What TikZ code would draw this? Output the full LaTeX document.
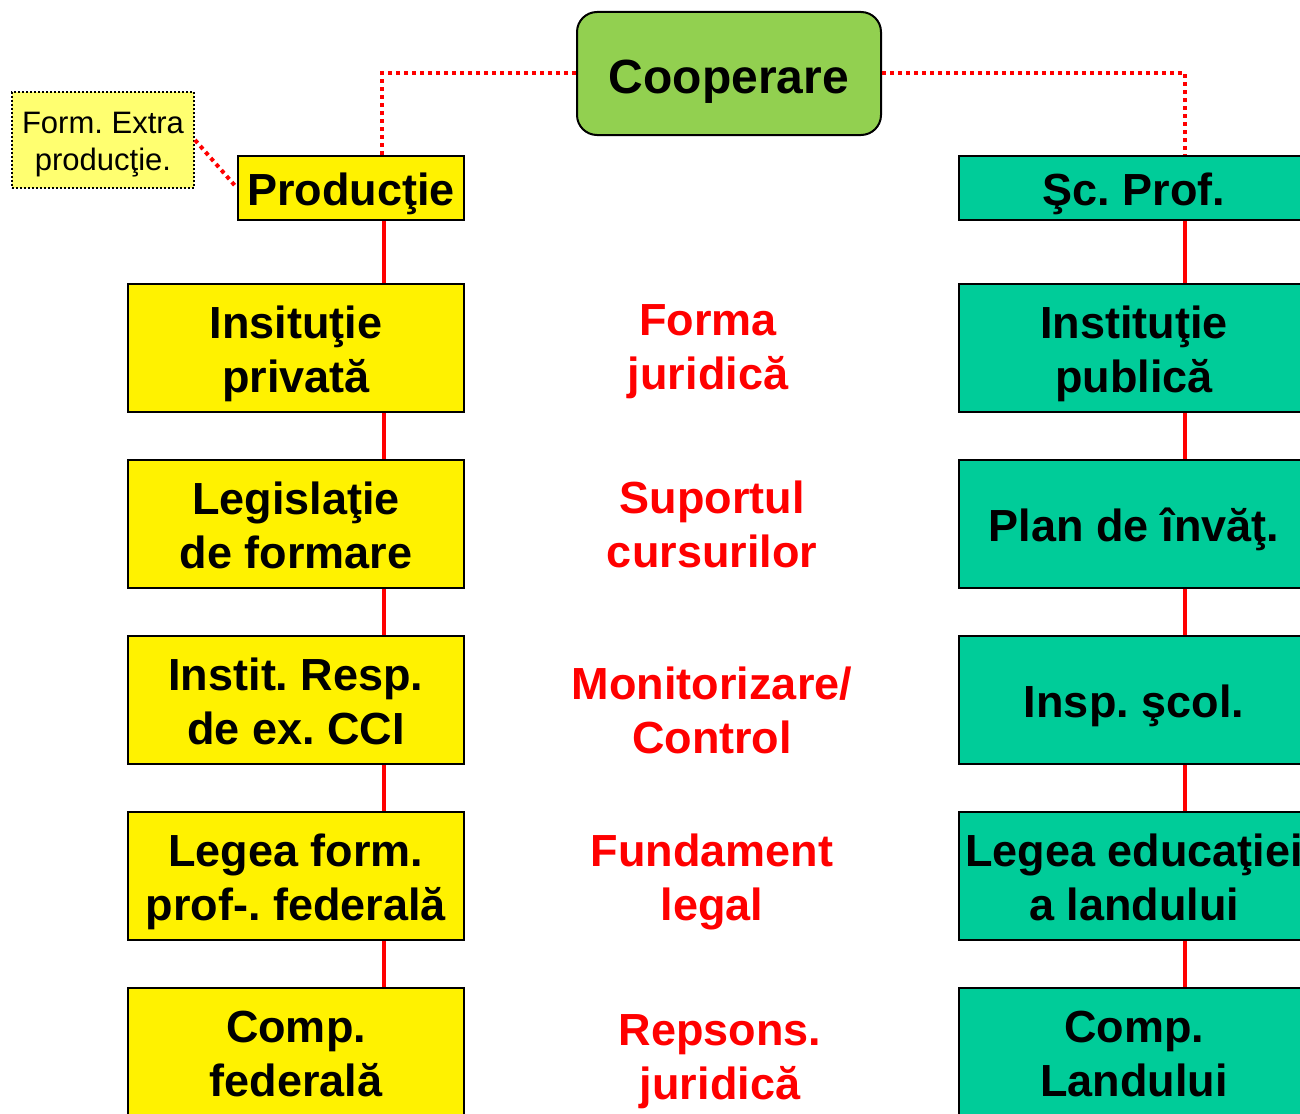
\documentclass[tikz,border=0pt]{standalone}
\usepackage{fontspec}
\setmainfont{Liberation Sans}
\newcommand\strA{\rule[-10pt]{0pt}{43pt}}
\newcommand\strT{\rule[-10pt]{0pt}{54pt}}
\newcommand\strB{\rule[-10pt]{0pt}{60pt}}
\newcommand\strC{\rule[-7pt]{0pt}{29pt}}
\newcommand\strD{\rule[-7pt]{0pt}{37pt}}
\begin{document}
\frenchspacing
\begin{tikzpicture}[x=1pt,y=-1pt,
  box/.style={draw=black, line width=2pt, inner sep=0pt, align=center,
    font=\fontsize{45}{54}\selectfont\bfseries\frenchspacing},
  lbox/.style={box, fill=yellow, minimum width=336pt, minimum height=128pt},
  rbox/.style={box, fill=tealgreen, minimum width=350pt, minimum height=128pt},
  lab/.style={text=red, inner sep=0pt, align=center, font=\fontsize{45}{54}\selectfont\bfseries\frenchspacing},
  link/.style={draw=red, line width=4pt},
  dotlink/.style={draw=red, line width=4pt, dash pattern=on 4pt off 4pt}]
\definecolor{tealgreen}{HTML}{00CC99}
\definecolor{coopgreen}{HTML}{92D050}
\definecolor{lightyel}{HTML}{FFFF70}
\useasboundingbox (0,0) rectangle (1300,1113);
\clip (0,0) rectangle (1300,1113);
\coordinate (lx) at (384,0);
\coordinate (ldx) at (382,0);
\coordinate (rx) at (1185,0);
% top
\node[box, fill=coopgreen, rounded corners=20pt, minimum width=304pt, minimum height=123pt,
  font=\fontsize{48}{56}\selectfont\bfseries] (coop) at (729,73.5) {\strB Cooperare};
\node[box, fill=yellow, minimum width=226pt, minimum height=64pt] (prod) at (351,188) {\strT Producţie};
\node[box, fill=tealgreen, minimum width=350pt, minimum height=64pt] (scp) at (1134,188) {\strT Şc. Prof.};
\node[draw=black, line width=2pt, dash pattern=on 2pt off 2pt, fill=lightyel, inner sep=0pt,
  minimum width=182pt, minimum height=96pt, align=center,
  font=\fontsize{31}{37}\selectfont\frenchspacing] (fe) at (103,140) {\strD Form. Extra\\\strC producţie.};
% left column
\node[lbox] (l1) at (296,348) {\strT Insituţie\\\strA privată};
\node[lbox] (l2) at (296,524) {\strT Legislaţie\\\strA de formare};
\node[lbox] (l3) at (296,700) {\strT Instit. Resp.\\\strA de ex. CCI};
\node[lbox] (l4) at (296,876) {\strT Legea form.\\\strA prof-. federală};
\node[lbox] (l5) at (296,1052) {\strT Comp.\\\strA federală};
% right column
\node[rbox] (r1) at (1134,348) {\strT Instituţie\\\strA publică};
\node[rbox] (r2) at (1134,524) {\strT Plan de învăţ.};
\node[rbox] (r3) at (1134,700) {\strT Insp. şcol.};
\node[rbox] (r4) at (1134,876) {\strT Legea educaţiei\\\strA a landului};
\node[rbox] (r5) at (1134,1052) {\strT Comp.\\\strA Landului};
% middle labels
\node[lab] (m1) at (708,350.5) {\strA Forma\\\strA juridică};
\node[lab] (m2) at (712,528.5) {\strA Suportul\\\strA cursurilor};
\node[lab] (m3) at (712,714.5) {\strA Monitorizare/\\\strA Control};
\node[lab] (m4) at (712,881.5) {\strA Fundament\\\strA legal};
\node[lab] (m5) at (720,1060.5) {\strA Repsons.\\\strA juridică};
% connectors
\draw[dotlink] (coop.west) -| (prod.north -| ldx);
\draw[dotlink] (coop.east) -| (scp.north -| rx);
\draw[dotlink] (fe.east) -- (prod.west);
\draw[link] (prod.south -| lx) -- (l1.north -| lx);
\draw[link] (l1.south -| lx) -- (l2.north -| lx);
\draw[link] (l2.south -| lx) -- (l3.north -| lx);
\draw[link] (l3.south -| lx) -- (l4.north -| lx);
\draw[link] (l4.south -| lx) -- (l5.north -| lx);
\draw[link] (scp.south -| rx) -- (r1.north -| rx);
\draw[link] (r1.south -| rx) -- (r2.north -| rx);
\draw[link] (r2.south -| rx) -- (r3.north -| rx);
\draw[link] (r3.south -| rx) -- (r4.north -| rx);
\draw[link] (r4.south -| rx) -- (r5.north -| rx);
\end{tikzpicture}
\end{document}
